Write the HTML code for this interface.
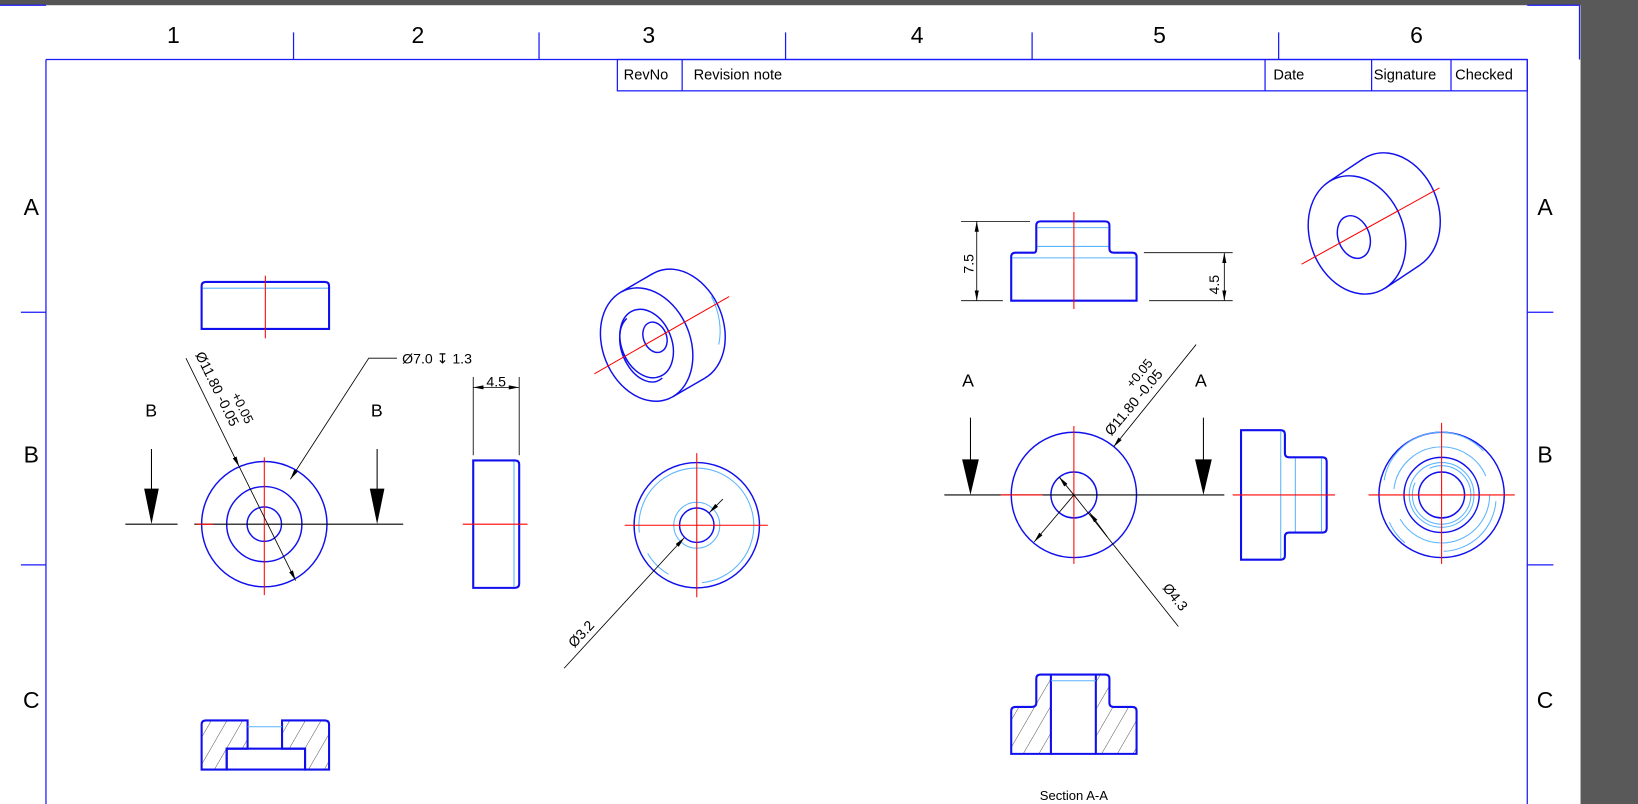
<!DOCTYPE html>
<html><head><meta charset="utf-8"><style>
html,body{margin:0;padding:0;background:#fff;}
svg{display:block;}
text{font-family:"Liberation Sans",sans-serif;}
</style></head><body>
<svg width="1638" height="804" viewBox="0 0 1568 770" preserveAspectRatio="none" xmlns="http://www.w3.org/2000/svg">
<defs>
<marker id="ar" viewBox="0 0 10 4" refX="10" refY="2" markerWidth="10" markerHeight="4" markerUnits="userSpaceOnUse" orient="auto"><path d="M0,0 L10,2 L0,4z" fill="#000"/></marker>
<marker id="as" viewBox="0 0 10 4" refX="0" refY="2" markerWidth="10" markerHeight="4" markerUnits="userSpaceOnUse" orient="auto"><path d="M10,0 L0,2 L10,4z" fill="#000"/></marker>
<pattern id="hatch" width="13" height="13" patternUnits="userSpaceOnUse" patternTransform="rotate(30)"><line x1="0" y1="0" x2="0" y2="13" stroke="#333" stroke-width="0.8"/></pattern>
</defs>
<rect width="1568" height="770" fill="#fff"/>
<rect x="0" y="0" width="1568" height="5" fill="#555"/>
<rect x="1513" y="0" width="55" height="770" fill="#595959"/>
<g stroke="#1a1aff" stroke-width="1.2" fill="none">
<line x1="0" y1="5" x2="44" y2="5"/>
<line x1="1462" y1="5" x2="1512" y2="5"/><line x1="1512" y1="5" x2="1512" y2="57"/>
<line x1="44" y1="57" x2="44" y2="770"/><line x1="44" y1="57" x2="1462" y2="57"/><line x1="1462" y1="57" x2="1462" y2="770"/>
<line x1="281" y1="31" x2="281" y2="57"/><line x1="516" y1="31" x2="516" y2="57"/><line x1="752" y1="31" x2="752" y2="57"/><line x1="988" y1="31" x2="988" y2="57"/><line x1="1224" y1="31" x2="1224" y2="57"/>
<line x1="20" y1="299" x2="44" y2="299"/><line x1="20" y1="541" x2="44" y2="541"/>
<line x1="1462" y1="299" x2="1487" y2="299"/><line x1="1462" y1="541" x2="1487" y2="541"/>
<rect x="591" y="57" width="871" height="30"/>
<line x1="653" y1="57" x2="653" y2="87"/><line x1="1211" y1="57" x2="1211" y2="87"/><line x1="1313" y1="57" x2="1313" y2="87"/><line x1="1389" y1="57" x2="1389" y2="87"/>
</g>
<g font-size="22" text-anchor="middle" fill="#000">
<text x="166" y="41">1</text><text x="400" y="41">2</text><text x="621" y="41">3</text><text x="878" y="41">4</text><text x="1110" y="41">5</text><text x="1356" y="41">6</text>
<text x="30" y="206">A</text><text x="30" y="443">B</text><text x="30" y="678">C</text>
<text x="1479" y="206">A</text><text x="1479" y="443">B</text><text x="1479" y="678">C</text>
</g>
<g font-size="14" fill="#000">
<text x="597" y="76">RevNo</text><text x="664" y="76">Revision note</text><text x="1219" y="76">Date</text><text x="1315" y="76">Signature</text><text x="1393" y="76">Checked</text>
</g>

<!-- LEFT TOP VIEW -->
<path d="M193,315 V274 Q193,270 197,270 H311 Q315,270 315,274 V315 Z" fill="none" stroke="#1010ee" stroke-width="2"/>
<line x1="194" y1="276" x2="314" y2="276" stroke="#5ab4ff" stroke-width="1"/>
<line x1="254" y1="264" x2="254" y2="324" stroke="red" stroke-width="1"/>

<!-- LEFT FRONT -->
<g fill="none" stroke="#1010ee" stroke-width="1.4">
<circle cx="253" cy="502" r="60"/><circle cx="253" cy="502" r="36"/><circle cx="253" cy="502" r="16.5"/>
</g>
<line x1="120" y1="502" x2="170" y2="502" stroke="#000"/>
<line x1="186" y1="502" x2="386" y2="502" stroke="#000"/>
<line x1="188" y1="502" x2="204" y2="502" stroke="red"/>
<line x1="253" y1="438" x2="253" y2="570" stroke="red"/>
<line x1="145" y1="430" x2="145" y2="470" stroke="#000"/><path d="M138,468 L152,468 L145,502z" fill="#000"/>
<line x1="361" y1="430" x2="361" y2="470" stroke="#000"/><path d="M354,468 L368,468 L361,502z" fill="#000"/>
<text x="139" y="399" font-size="17">B</text><text x="355" y="399" font-size="17">B</text>
<line x1="178" y1="343" x2="229" y2="447" stroke="#000" stroke-width="0.8" marker-end="url(#ar)"/>
<line x1="229" y1="447" x2="283" y2="556" stroke="#000" stroke-width="0.8" marker-end="url(#ar)"/>
<g transform="translate(184,341) rotate(63.8)" font-size="13.5" fill="#000"><text x="0" y="-3">Ø11.80 -0.05</text><text x="50" y="-17" font-size="12.5">+0.05</text></g>
<polyline points="380,343 353,343 278,459" fill="none" stroke="#000" stroke-width="0.8" marker-end="url(#ar)"/>
<text x="385" y="348" font-size="13.5" fill="#000">Ø7.0 ↧ 1.3</text>

<!-- LEFT SIDE -->
<path d="M453,441 H493 Q497,441 497,445 V559 Q497,563 493,563 H453 Z" fill="none" stroke="#1010ee" stroke-width="2"/>
<line x1="492" y1="442" x2="492" y2="562" stroke="#5ab4ff"/>
<line x1="443" y1="502" x2="505" y2="502" stroke="red"/>
<line x1="453" y1="361" x2="453" y2="436" stroke="#000" stroke-width="0.8"/><line x1="497" y1="361" x2="497" y2="436" stroke="#000" stroke-width="0.8"/>
<line x1="453" y1="371" x2="497" y2="371" stroke="#000" stroke-width="0.8" marker-start="url(#as)" marker-end="url(#ar)"/>
<text x="475" y="370" font-size="13.5" text-anchor="middle">4.5</text>

<!-- MIDDLE ISO -->
<g fill="#fff" stroke="#1010ee" stroke-width="1.4">
<ellipse cx="650" cy="312" rx="42" ry="56" transform="rotate(-22 650 312)"/>
<path d="M594,280 L625,262 L675,362 L644,380 Z" stroke="none"/>
<line x1="594" y1="280" x2="625" y2="262"/><line x1="644" y1="380" x2="675" y2="362"/>
<ellipse cx="619" cy="330" rx="42" ry="56" transform="rotate(-22 619 330)"/>
<ellipse cx="619" cy="329" rx="24" ry="34" transform="rotate(-22 619 329)" fill="none"/>
<path d="M600,305 A20,31 -22 0 0 634,362" fill="none"/>
<ellipse cx="627" cy="323" rx="11" ry="15" transform="rotate(-22 627 323)" fill="none"/>
</g>
<path d="M681,284 A42,56 -22 0 1 688,330" fill="none" stroke="#5ab4ff"/>
<line x1="569" y1="358" x2="698" y2="284" stroke="red"/>

<!-- MIDDLE CIRCLE -->
<circle cx="667" cy="503" r="60" fill="none" stroke="#1010ee" stroke-width="1.4"/>
<path d="M612,510 A55,55 0 1 1 672,558" fill="none" stroke="#5ab4ff"/>
<path d="M620,530 A55,55 0 0 0 640,550" fill="none" stroke="#5ab4ff"/>
<circle cx="667" cy="503" r="22" fill="none" stroke="#5ab4ff"/>
<circle cx="667" cy="503" r="16.5" fill="none" stroke="#1010ee" stroke-width="1.4"/>
<line x1="598" y1="503" x2="735" y2="503" stroke="red"/><line x1="667" y1="434" x2="667" y2="572" stroke="red"/>
<line x1="540" y1="640" x2="655" y2="515" stroke="#000" stroke-width="0.8" marker-end="url(#ar)"/>
<line x1="692" y1="478" x2="679" y2="491" stroke="#000" stroke-width="0.8" marker-end="url(#ar)"/>
<g transform="translate(552,623) rotate(-47.4)"><text x="0" y="-3" font-size="13.5">Ø3.2</text></g>

<!-- RIGHT TOP SIDE VIEW -->
<path d="M968,288 V246 Q968,242 972,242 H990 Q992,242 992,238 V216 Q992,212 996,212 H1058 Q1062,212 1062,216 V238 Q1062,242 1066,242 H1084 Q1088,242 1088,246 V288 Z" fill="none" stroke="#1010ee" stroke-width="2"/>
<line x1="993" y1="218" x2="1061" y2="218" stroke="#5ab4ff"/><line x1="993" y1="236" x2="1061" y2="236" stroke="#5ab4ff"/><line x1="969" y1="247" x2="1087" y2="247" stroke="#5ab4ff"/>
<line x1="1028" y1="203" x2="1028" y2="296" stroke="red"/>
<g stroke="#000" stroke-width="0.8">
<line x1="920" y1="212" x2="986" y2="212"/><line x1="920" y1="288" x2="960" y2="288"/>
<line x1="935" y1="212" x2="935" y2="288" marker-start="url(#as)" marker-end="url(#ar)"/>
<line x1="1095" y1="242" x2="1180" y2="242"/><line x1="1100" y1="288" x2="1180" y2="288"/>
<line x1="1172" y1="242" x2="1172" y2="288" marker-start="url(#as)" marker-end="url(#ar)"/>
</g>
<text transform="translate(932,262) rotate(-90)" font-size="13.5">7.5</text>
<text transform="translate(1167,282) rotate(-90)" font-size="13.5">4.5</text>

<!-- RIGHT ISO -->
<g fill="#fff" stroke="#1010ee" stroke-width="1.4">
<ellipse cx="1340" cy="200" rx="36" ry="44" transform="rotate(-20 1340 200)"/>
<ellipse cx="1332" cy="203" rx="45" ry="58" transform="rotate(-20 1332 203)"/>
<path d="M1272,174 L1305,152 L1359,254 L1326,276 Z" stroke="none"/>
<line x1="1272" y1="174" x2="1305" y2="152"/><line x1="1326" y1="276" x2="1359" y2="254"/>
<ellipse cx="1299" cy="225" rx="45" ry="58" transform="rotate(-20 1299 225)"/>
<ellipse cx="1296" cy="227" rx="15" ry="21" transform="rotate(-20 1296 227)"/>
</g>
<line x1="1246" y1="253" x2="1378" y2="180" stroke="red"/>

<!-- RIGHT FRONT SECTION VIEW -->
<circle cx="1028" cy="474" r="60" fill="none" stroke="#1010ee" stroke-width="1.4"/>
<circle cx="1028" cy="474" r="22" fill="none" stroke="#1010ee" stroke-width="1.4"/>
<line x1="904" y1="474" x2="958" y2="474" stroke="#000"/><line x1="958" y1="474" x2="1172" y2="474" stroke="#000"/>
<line x1="958" y1="474" x2="998" y2="474" stroke="red"/>
<line x1="1028" y1="408" x2="1028" y2="540" stroke="red"/>
<line x1="929" y1="400" x2="929" y2="442" stroke="#000"/><path d="M921,440 L937,440 L929,474z" fill="#000"/>
<line x1="1152" y1="400" x2="1152" y2="442" stroke="#000"/><path d="M1144,440 L1160,440 L1152,474z" fill="#000"/>
<text x="921" y="370" font-size="17">A</text><text x="1144" y="370" font-size="17">A</text>
<line x1="1145" y1="330" x2="1066" y2="428" stroke="#000" stroke-width="0.8" marker-end="url(#ar)"/>
<line x1="1028" y1="474" x2="990" y2="519" stroke="#000" stroke-width="0.8" marker-end="url(#ar)"/>
<line x1="1028" y1="474" x2="1014" y2="457" stroke="#000" stroke-width="0.8" marker-end="url(#ar)"/>
<line x1="1028" y1="474" x2="1128" y2="600" stroke="#000" stroke-width="0.8"/>
<line x1="1060" y1="514" x2="1043" y2="491" stroke="#000" stroke-width="0.8" marker-end="url(#ar)"/>
<g transform="translate(1066,420) rotate(-50)" font-size="13.5"><text x="0" y="-3">Ø11.80 -0.05</text><text x="48" y="-17" font-size="12.5">+0.05</text></g>
<g transform="translate(1110,565) rotate(51.6)"><text x="0" y="-3" font-size="13.5">Ø4.3</text></g>

<!-- RIGHT SIDE VIEW -->
<path d="M1188,412 H1226 Q1230,412 1230,416 V434 Q1230,438 1234,438 H1266 Q1270,438 1270,442 V506 Q1270,510 1266,510 H1234 Q1230,510 1230,514 V532 Q1230,536 1226,536 H1188 Z" fill="none" stroke="#1010ee" stroke-width="2"/>
<line x1="1226" y1="413" x2="1226" y2="535" stroke="#5ab4ff"/><line x1="1240" y1="439" x2="1240" y2="509" stroke="#5ab4ff"/><line x1="1265" y1="439" x2="1265" y2="509" stroke="#5ab4ff"/>
<line x1="1180" y1="474" x2="1278" y2="474" stroke="red"/>

<!-- RIGHT CIRCLE VIEW -->
<circle cx="1380" cy="474" r="60" fill="none" stroke="#1010ee" stroke-width="1.4"/>
<path d="M1325,460 A55,55 0 0 1 1420,432 M1432,480 A52,52 0 0 1 1382,528 M1330,500 A52,52 0 0 0 1345,520" fill="none" stroke="#5ab4ff"/>
<circle cx="1380" cy="474" r="46" fill="none" stroke="#5ab4ff" stroke-dasharray="120 30"/>
<circle cx="1380" cy="474" r="36" fill="none" stroke="#1010ee" stroke-width="1.4"/>
<circle cx="1380" cy="474" r="31" fill="none" stroke="#5ab4ff"/>
<circle cx="1380" cy="474" r="28" fill="none" stroke="#5ab4ff" stroke-dasharray="100 20"/>
<circle cx="1380" cy="474" r="22" fill="none" stroke="#1010ee" stroke-width="1.4"/>
<line x1="1310" y1="474" x2="1450" y2="474" stroke="red"/><line x1="1380" y1="405" x2="1380" y2="540" stroke="red"/>

<!-- SECTION B-B (left bottom) -->
<path d="M193,737 V694 Q193,690 197,690 H237 V717 H217 V737 Z M270,690 H311 Q315,690 315,694 V737 H292 V717 H270 Z" fill="url(#hatch)" stroke="#1010ee" stroke-width="2"/>
<rect x="217" y="717" width="75" height="20" fill="none" stroke="#1010ee" stroke-width="2"/>
<line x1="237" y1="696" x2="270" y2="696" stroke="#5ab4ff"/>

<!-- SECTION A-A -->
<path d="M968,722 V681 Q968,677 972,677 H988 Q992,677 992,673 V650 Q992,646 996,646 H1006 V722 Z M1049,646 H1058 Q1062,646 1062,650 V673 Q1062,677 1066,677 H1084 Q1088,677 1088,681 V722 H1049 Z" fill="url(#hatch)" stroke="#1010ee" stroke-width="2"/>
<line x1="1006" y1="652" x2="1049" y2="652" stroke="#5ab4ff"/>
<line x1="1006" y1="722" x2="1049" y2="722" stroke="#1010ee" stroke-width="2"/>
<line x1="1006" y1="646" x2="1049" y2="646" stroke="#1010ee" stroke-width="2"/>
<text x="1028" y="766" font-size="12.5" text-anchor="middle">Section A-A</text>
</svg>
</body></html>
